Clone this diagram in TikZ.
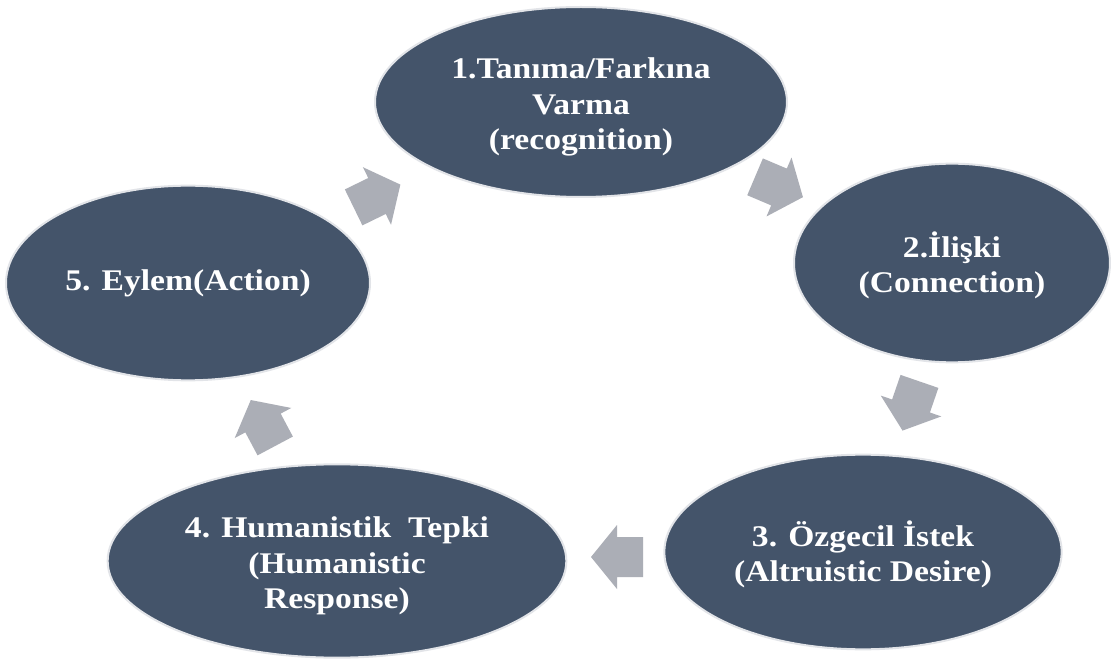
\documentclass[tikz,border=0pt]{standalone}
\usepackage{fontspec}
\setmainfont{Liberation Serif}[FakeStretch=1.12]
\usetikzlibrary{shapes.geometric}
\definecolor{ellfill}{HTML}{44546A}
\definecolor{ellline}{HTML}{E2E4E8}
\definecolor{arrgray}{HTML}{ABAEB6}
\tikzset{
  stage/.style={ellipse, fill=ellfill, draw=ellline, line width=1.5pt, inner sep=0pt,
    text=white, align=center, font=\bfseries\fontsize{22.5}{26.5}\selectfont},
  blockarrow/.pic={\fill[arrgray] (-26,-20) -- (0,-20) -- (0,-32) -- (26,0) -- (0,32) -- (0,20) -- (-26,20) -- cycle;}
}
\begin{document}
\begin{tikzpicture}[x=0.75pt,y=-0.75pt]
\fill[white] (0,0) rectangle (1111,659);
\useasboundingbox (0,0) rectangle (1111,659);
\node[stage, minimum width=309pt, minimum height=142.5pt] (s1) at (581,102) {\rule{0pt}{23pt}1.Tanıma/Farkına\\Varma\\(recognition)};
\node[stage, minimum width=237pt, minimum height=149pt] (s2) at (952,263) {\rule{0pt}{23pt}2.İlişki\\(Connection)};
\node[stage, minimum width=298pt, minimum height=146pt] (s3) at (863,552) {\rule{0pt}{23pt}3. Özgecil İstek\\(Altruistic Desire)};
\node[stage, minimum width=344pt, minimum height=145pt] (s4) at (337,561) {\rule{0pt}{23pt}4. Humanistik\ \ Tepki\\(Humanistic\\Response)};
\node[stage, minimum width=273pt, minimum height=146pt] (s5) at (188,283) {5. Eylem(Action)};
\pic[rotate=26] (a51) at (377,196) {blockarrow};
\pic[rotate=-23] (a12) at (779,187) {blockarrow};
\pic[rotate=-109] (a23) at (911,406) {blockarrow};
\pic[rotate=180] (a34) at (617,557) {blockarrow};
\pic[rotate=118] (a45) at (263,423) {blockarrow};
\end{tikzpicture}
\end{document}
